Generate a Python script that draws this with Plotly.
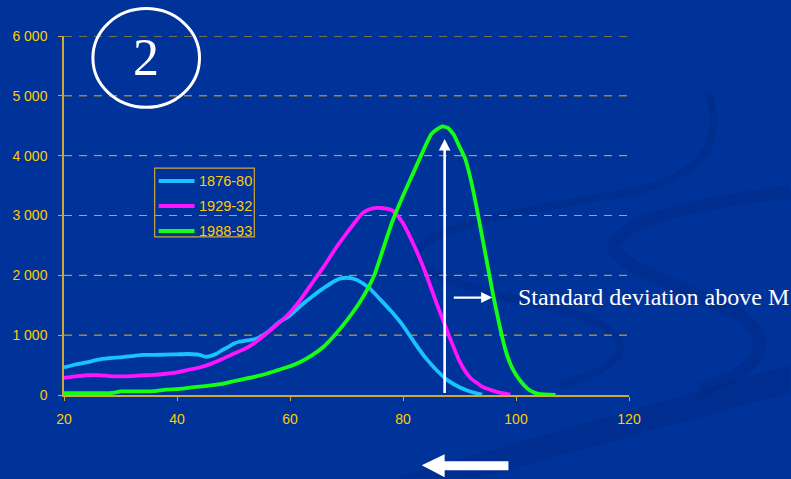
import plotly.graph_objects as go

# ---------------- data ----------------
ages_1876 = [20, 22, 24, 26, 28, 30, 32, 34, 36, 38, 40, 42, 44, 45, 46, 47, 48, 49, 50, 51, 52, 54, 56,
             58, 60, 62, 64, 66, 68, 69, 70, 71, 72, 74, 76, 78, 80, 82, 84, 86, 88, 90, 92, 94]
vals_1876 = [460, 510, 545, 590, 615, 630, 650, 670, 670, 675, 680, 685, 670, 640, 655, 690, 750, 800, 855,
             890, 905, 940, 1050, 1210, 1330, 1500, 1650, 1790, 1910, 1950, 1960, 1950, 1915, 1790, 1595,
             1390, 1160, 880, 620, 410, 240, 130, 55, 5]

ages_1929 = [20, 22, 24, 26, 28, 30, 32, 34, 36, 38, 40, 42, 44, 46, 48, 50, 52, 54, 56, 58, 60, 62, 64, 66,
             68, 70, 72, 73, 74, 75, 76, 77, 78, 79, 80, 82, 84, 86, 88, 90, 91, 92, 94, 96, 98, 99]
vals_1929 = [285, 310, 330, 332, 315, 310, 315, 330, 335, 355, 380, 420, 460, 520, 600, 690, 770, 890, 1040,
             1200, 1380, 1610, 1880, 2150, 2440, 2700, 2950, 3050, 3100, 3125, 3125, 3115, 3090, 3000, 2870,
             2490, 2040, 1520, 1025, 565, 400, 280, 140, 70, 22, 5]

ages_1988 = [20, 24, 28, 29, 30, 34, 36, 38, 40, 42, 44, 46, 48, 50, 52, 54, 56, 58, 60, 62, 64, 66, 68, 70,
             72, 73, 74, 75, 76, 78, 80, 82, 84, 85, 86, 87, 88, 89, 90, 91, 92, 93, 94, 95, 96, 97, 98, 99,
             100, 101, 102, 103, 104, 105, 106, 107]
vals_1988 = [30, 30, 30, 40, 60, 60, 65, 90, 100, 120, 140, 160, 185, 230, 270, 310, 360, 420, 480, 560, 670,
             810, 1010, 1240, 1500, 1650, 1820, 2020, 2300, 2870, 3330, 3750, 4170, 4360, 4440, 4490, 4460,
             4350, 4150, 3950, 3600, 3150, 2650, 2150, 1650, 1200, 800, 520, 340, 210, 110, 50, 20, 10, 5, 0]

series_names = ["1876-80", "1929-32", "1988-93"]
series_colors = ["#19C3FF", "#FF14FF", "#14FF14"]

x_ticks = [20, 40, 60, 80, 100, 120]
y_ticks = [0, 1000, 2000, 3000, 4000, 5000, 6000]

arrow_age = 87.37          # vertical arrow position (age)
arrow_top = 4280           # vertical arrow head
sd_arrow = (88.72, 95.77, 1629)   # horizontal arrow: from, to, level

# ---------------- layout helpers ----------------
W, H = 791, 479
L, R, T, B = 62, 629, 35.5, 395.5


def P(px, py):
    return f"{(px - L) / (R - L):.4f},{(B - py) / (B - T):.4f}"


def px_x(px):
    return (px - L) / (R - L)


def px_y(py):
    return (B - py) / (B - T)


BG = "#00339A"
SWOOSH = "rgba(0,25,100,0.18)"
GOLD_AXIS = "#D0A838"
GOLD_TEXT = "#FFCC00"
GRID = "#F0B000"

fig = go.Figure()
for i, (xs, ys) in enumerate([(ages_1876, vals_1876), (ages_1929, vals_1929), (ages_1988, vals_1988)]):
    fig.add_trace(go.Scatter(
        x=xs, y=ys, mode="lines", name=series_names[i], showlegend=False,
        line=dict(color=series_colors[i], width=3.8, shape="spline", smoothing=0.4),
        hoverinfo="x+y+name",
    ))

shapes = []
# decorative background swooshes
shapes.append(dict(type="path", xref="paper", yref="paper", layer="below",
                   path=f"M {P(392,479)} L {P(791,365)} L {P(791,393)} L {P(477,479)} Z",
                   fillcolor=SWOOSH, line=dict(width=0)))
shapes.append(dict(type="path", xref="paper", yref="paper", layer="below",
                   path=(f"M {P(708,92)} C {P(722,130)} {P(715,170)} {P(640,190)} "
                         f"C {P(560,205)} {P(440,220)} {P(418,250)} "
                         f"C {P(405,272)} {P(470,290)} {P(560,310)} "
                         f"C {P(640,330)} {P(640,365)} {P(560,385)}"),
                   line=dict(color=SWOOSH, width=8)))
shapes.append(dict(type="path", xref="paper", yref="paper", layer="below",
                   path=(f"M {P(791,192)} C {P(720,200)} {P(630,215)} {P(614,243)} "
                         f"C {P(605,262)} {P(680,285)} {P(740,315)} "
                         f"C {P(775,340)} {P(765,370)} {P(700,390)}"),
                   line=dict(color=SWOOSH, width=13)))
# dashed horizontal gridlines (the 3000 one looks grey in the original)
for v in y_ticks[1:]:
    shapes.append(dict(type="line", xref="paper", yref="y", layer="below",
                       x0=0, x1=1, y0=v, y1=v,
                       line=dict(color="#A8A28A" if v == 3000 else GRID, width=1, dash="8px,7px")))
# circle around the "2"
shapes.append(dict(type="circle", xref="paper", yref="paper",
                   x0=px_x(91), x1=px_x(198), y0=px_y(107), y1=px_y(8),
                   line=dict(color="white", width=3)))
# bottom block arrow
shapes.append(dict(type="path", xref="paper", yref="paper",
                   path=(f"M {P(421,466)} L {P(444,455)} L {P(444,462)} L {P(508,462)} "
                         f"L {P(508,471)} L {P(444,471)} L {P(444,478)} Z"),
                   fillcolor="white", line=dict(width=0)))

# manual legend box
leg_x0, leg_x1, leg_y0, leg_y1 = 153, 253, 168, 237
shapes.append(dict(type="rect", xref="paper", yref="paper",
                   x0=px_x(leg_x0), x1=px_x(leg_x1), y0=px_y(leg_y1), y1=px_y(leg_y0),
                   line=dict(color=GOLD_AXIS, width=1.2), fillcolor="rgba(0,0,0,0)"))

annotations = []
for i, name in enumerate(series_names):
    row_y = 181 + 25 * i
    shapes.append(dict(type="line", xref="paper", yref="paper",
                       x0=px_x(157), x1=px_x(193), y0=px_y(row_y), y1=px_y(row_y),
                       line=dict(color=series_colors[i], width=4)))
    annotations.append(dict(x=px_x(195), y=px_y(row_y), xref="paper", yref="paper", text=name,
                            showarrow=False, xanchor="left", yanchor="middle",
                            font=dict(family="Liberation Sans", size=14.5, color=GOLD_TEXT)))

annotations += [
    dict(x=px_x(144), y=px_y(57), xref="paper", yref="paper", text="2", showarrow=False,
         font=dict(family="Liberation Serif", size=52, color="white"), xanchor="center", yanchor="middle"),
    dict(x=px_x(516), y=px_y(297), xref="paper", yref="paper", text="Standard deviation above M",
         showarrow=False, font=dict(family="Liberation Serif", size=24, color="white"),
         xanchor="left", yanchor="middle"),
    dict(x=arrow_age, y=arrow_top, ax=arrow_age, ay=10, xref="x", yref="y", axref="x", ayref="y",
         text="", showarrow=True, arrowhead=2, arrowsize=0.9, arrowwidth=2.6, arrowcolor="white"),
    dict(x=sd_arrow[1], y=sd_arrow[2], ax=sd_arrow[0], ay=sd_arrow[2], xref="x", yref="y",
         axref="x", ayref="y", text="", showarrow=True, arrowhead=2, arrowsize=1,
         arrowwidth=2.2, arrowcolor="white"),
]

fig.update_layout(
    width=W, height=H, autosize=False,
    margin=dict(l=L, r=W - R, t=T, b=H - B, pad=0),
    paper_bgcolor=BG, plot_bgcolor="rgba(0,0,0,0)",
    separators=". ",
    font=dict(family="Liberation Sans", color=GOLD_TEXT, size=14),
    showlegend=False,
    xaxis=dict(range=[x_ticks[0], x_ticks[-1]], tickvals=x_ticks, showgrid=False, zeroline=False,
               showline=True, linecolor=GOLD_AXIS, linewidth=1.5, ticks="outside", ticklen=4,
               tickcolor=GOLD_AXIS, ticklabelstandoff=6, tickfont=dict(color=GOLD_TEXT, size=14)),
    yaxis=dict(range=[y_ticks[0], y_ticks[-1]], tickvals=y_ticks, tickformat=",d", showgrid=False,
               zeroline=False, showline=True, linecolor=GOLD_AXIS, linewidth=1.5, ticks="outside",
               ticklen=4, tickcolor=GOLD_AXIS, ticklabelstandoff=8,
               tickfont=dict(color=GOLD_TEXT, size=14)),
    shapes=shapes, annotations=annotations,
)

fig.write_html("out.html", config={"displayModeBar": False},
               post_script="document.body.style.margin='0';document.body.style.overflow='hidden';")
